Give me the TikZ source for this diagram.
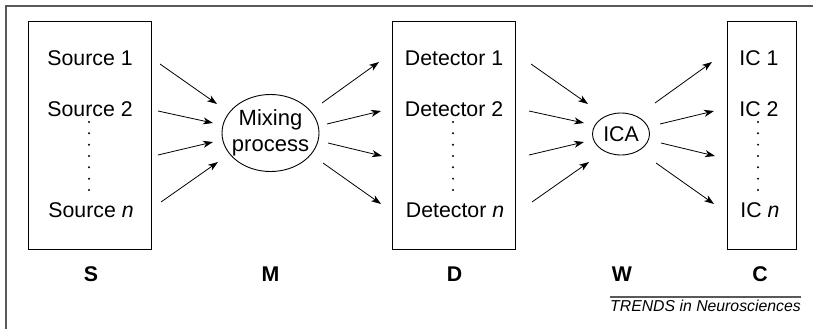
\documentclass[tikz,border=0pt]{standalone}
\usepackage{fontspec}
\setmainfont{Liberation Sans}
\usetikzlibrary{arrows.meta,shapes.geometric}
\begin{document}
\begin{tikzpicture}[x=1pt,y=-1pt,
  txt/.style={anchor=base,inner sep=0pt,font=\fontsize{21.3}{27}\selectfont},
  lbl/.style={anchor=base,inner sep=0pt,font=\fontsize{21.3}{27}\selectfont\bfseries},
  colbox/.style={draw,line width=1pt},
  proc/.style={draw,ellipse,line width=0.9pt,inner xsep=-12pt,inner ysep=-8pt,align=center,font=\fontsize{22}{27}\selectfont},
  arr/.style={line width=0.8pt,-{Stealth[length=10pt,width=7pt,inset=3pt]}},
  dotstyle/.style={fill=black}
]
\useasboundingbox (0,0) rectangle (813,329);
% outer frame (open on the right and bottom)
\draw[line width=1.4pt,black!65] (6,329) -- (6,6) -- (813,6);

% boxes
\node[colbox,minimum width=123pt,minimum height=227pt,inner sep=0pt] (S) at (89.5,135.5) {};
\node[colbox,minimum width=123pt,minimum height=227pt,inner sep=0pt] (D) at (453.5,135.5) {};
\node[colbox,minimum width=69pt,minimum height=227pt,inner sep=0pt] (C) at (761.5,135.5) {};

% texts in boxes
\node[txt] (s1) at (90,65) {Source 1};
\node[txt] (s2) at (90,116) {Source 2};
\node[txt] (sn) at (91,217) {Source \textit{n}};
\node[txt] (d1) at (454,65) {Detector 1};
\node[txt] (d2) at (454,116) {Detector 2};
\node[txt] (dn) at (455,217) {Detector \textit{n}};
\node[txt] (c1) at (759,65) {IC 1};
\node[txt] (c2) at (759,116) {IC 2};
\node[txt] (cn) at (760,217) {IC \textit{n}};

% vertical dots
\foreach \xx in {89,453,758}{
  \foreach \k in {0,...,6}{
    \fill[dotstyle] (\xx,122+\k*11.33) circle (1.1pt);
  }
}

% ellipses
\node[proc,minimum width=97pt,minimum height=77pt] (mix) at (270.5,133) {Mixing\\[-1pt]process};
\node[proc,minimum width=57pt,minimum height=42pt,font=\fontsize{21.3}{27}\selectfont] (ica) at (621,134) {ICA};

% arrow end points: converging fans (S->M, D->W)
\foreach \g/\ox in {a/0,b/371}{
  \coordinate (\g s1) at (160+\ox,64);  \coordinate (\g e1) at (217+\ox,104);
  \coordinate (\g s2) at (158+\ox,111); \coordinate (\g e2) at (213+\ox,123);
  \coordinate (\g s3) at (158+\ox,155); \coordinate (\g e3) at (213+\ox,142);
  \coordinate (\g s4) at (161+\ox,202); \coordinate (\g e4) at (218+\ox,162);
}
% diverging fans (M->D, W->C)
\foreach \g/\ox in {c/0,d/333}{
  \coordinate (\g s1) at (322+\ox,103); \coordinate (\g e1) at (379+\ox,62);
  \coordinate (\g s2) at (327+\ox,124); \coordinate (\g e2) at (381+\ox,111);
  \coordinate (\g s3) at (328+\ox,143); \coordinate (\g e3) at (382+\ox,156);
  \coordinate (\g s4) at (323+\ox,163); \coordinate (\g e4) at (381+\ox,204);
}
\foreach \g in {a,b,c,d}{
  \foreach \i in {1,2,3,4}{
    \draw[arr] (\g s\i) -- (\g e\i);
  }
}

% labels
\node[lbl] (lS) at (91,281) {S};
\node[lbl] (lM) at (270.5,281) {M};
\node[lbl] (lD) at (454.5,281) {D};
\node[lbl] (lW) at (622,281) {W};
\node[lbl] (lC) at (760,281) {C};

% credit line
\coordinate (ul1) at (610,297);
\coordinate (ul2) at (801,297);
\draw[line width=1.1pt,black!65] (ul1) -- (ul2);
\node[anchor=base,inner sep=0pt,font=\fontsize{15.8}{19}\selectfont\itshape] (trends) at (705.5,311.5) {TRENDS in Neurosciences};
\end{tikzpicture}
\end{document}
